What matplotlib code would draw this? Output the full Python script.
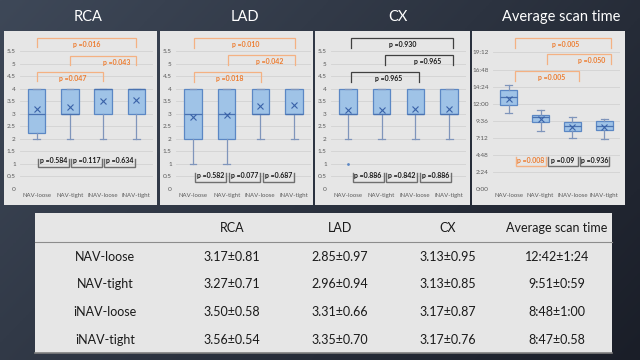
import numpy as np
import matplotlib
matplotlib.use('Agg')
import matplotlib.pyplot as plt
from matplotlib.patches import Rectangle
from matplotlib.lines import Line2D

plt.rcParams['font.family'] = ['Lato', 'DejaVu Sans']

W, H = 640, 360

categories = ['NAV-loose', 'NAV-tight', 'iNAV-loose', 'iNAV-tight']

# box stats
rca_lo = [2, 2, 2, 2]
rca_q1 = [2.25, 3, 3, 3]
rca_med = [3, 3, 4, 4]
rca_q3 = [4, 4, 4, 4]
rca_hi = [4, 4, 4, 4]
rca_mean = [3.17, 3.27, 3.50, 3.56]
rca_fliers = [[], [], [], []]

lad_lo = [1, 1, 2, 2]
lad_q1 = [2, 2, 3, 3]
lad_med = [3, 3, 3, 3]
lad_q3 = [4, 4, 4, 4]
lad_hi = [4, 4, 4, 4]
lad_mean = [2.85, 2.96, 3.31, 3.35]
lad_fliers = [[], [], [], []]

cx_lo = [2, 2, 2, 2]
cx_q1 = [3, 3, 3, 3]
cx_med = [3, 3, 3, 3]
cx_q3 = [4, 4, 4, 4]
cx_hi = [4, 4, 4, 4]
cx_mean = [3.13, 3.13, 3.17, 3.17]
cx_fliers = [[1], [], [], []]

# scan time in minutes
scan_lo = [10.67, 8.14, 7.16, 7.06]
scan_q1 = [11.79, 9.49, 8.14, 8.28]
scan_med = [12.91, 10.19, 8.88, 8.93]
scan_q3 = [13.89, 10.43, 9.49, 9.54]
scan_hi = [14.6, 11.09, 10.1, 9.82]
scan_mean = [12.7, 9.85, 8.8, 8.78]
scan_fliers = [[], [], [], []]

score_ticks = np.arange(0, 5.51, 0.5)
score_tick_labels = ['0', '0.5', '1', '1.5', '2', '2.5', '3', '3.5', '4', '4.5', '5', '5.5']
time_ticks = np.arange(0, 19.3, 2.4)
time_tick_labels = ['0:00', '2:24', '4:48', '7:12', '9:36', '12:00', '14:24', '16:48', '19:12']

# p-values: top pairs (0,3), (1,3), (0,2); bottom pairs (0,1), (1,2), (2,3)
top_pairs = [(0, 3), (1, 3), (0, 2)]
bottom_pairs = [(0, 1), (1, 2), (2, 3)]
rca_top_p = ['0.016', '0.043', '0.047']
rca_bottom_p = ['0.584', '0.117', '0.634']
lad_top_p = ['0.010', '0.042', '0.018']
lad_bottom_p = ['0.582', '0.077', '0.687']
cx_top_p = ['0.930', '0.965', '0.965']
cx_bottom_p = ['0.886', '0.842', '0.886']
scan_top_p = ['0.005', '0.050', '0.005']
scan_bottom_p = ['0.008', '0.09', '0.936']

table_cols = ['RCA', 'LAD', 'CX', 'Average scan time']
table_rows = ['NAV-loose', 'NAV-tight', 'iNAV-loose', 'iNAV-tight']
table_rca = ['3.17±0.81', '3.27±0.71', '3.50±0.58', '3.56±0.54']
table_lad = ['2.85±0.97', '2.96±0.94', '3.31±0.66', '3.35±0.70']
table_cx = ['3.13±0.95', '3.13±0.85', '3.17±0.87', '3.17±0.76']
table_time = ['12:42±1:24', '9:51±0:59', '8:48±1:00', '8:47±0.58']

ORANGE_LINE = '#f4b183'
ORANGE_TEXT = '#ed7d31'
DARK_LINE = '#404040'
DARK_TEXT = '#1a1a1a'
GRAY_LINE = '#6f6f6f'


def fx(px):
    return px / W


def fy(py):
    return 1 - py / H


fig = plt.figure(figsize=(6.4, 3.6), dpi=100)

# dark slate background
bg = fig.add_axes([0, 0, 1, 1], zorder=-10)
gx, gy = np.meshgrid(np.linspace(0, 1, 200), np.linspace(0, 1, 120))
t = np.clip(0.65 * gx + 0.35 * gy, 0, 1)
c0 = np.array([62, 72, 88]) / 255
c1 = np.array([26, 30, 40]) / 255
img = c0[None, None, :] * (1 - t[..., None]) + c1[None, None, :] * t[..., None]
bg.imshow(img, aspect='auto', extent=[0, 1, 0, 1])
bg.set_axis_off()

# panel backgrounds and titles
panels_px = [(4, 157), (160, 313), (315, 470), (472, 625)]
titles = ['RCA', 'LAD', 'CX', 'Average scan time']
title_x = [88, 245, 398, 561]
for (l, r), title, tx in zip(panels_px, titles, title_x):
    fig.add_artist(Rectangle((fx(l), fy(205)), (r - l) / W, (205 - 31) / H,
                             transform=fig.transFigure, facecolor='#e6e6e6',
                             edgecolor='none', zorder=0))
    fig.text(fx(tx), fy(17), title, ha='center', va='center', color='white',
             fontsize=10.5)


def stats(lo, q1, med, q3, hi, mean, fliers):
    return [dict(whislo=lo[i], q1=q1[i], med=med[i], q3=q3[i], whishi=hi[i],
                 mean=mean[i], fliers=fliers[i]) for i in range(len(lo))]


def top_bracket(ax, a, b, h, drop, txt, tx, ty, lc, tc):
    ax.plot([a, a, b, b], [h - drop, h, h, h - drop], color=lc, lw=0.9,
            clip_on=False, solid_joinstyle='miter')
    ax.text(tx, ty, 'p =' + txt, ha='center', va='center', color=tc,
            fontsize=5, fontweight='bold')


def bottom_bracket(ax, a, b, ybot, ytop, ytxt, txt, lc, tc):
    ax.plot([a, a, b, b], [ytop, ybot, ybot, ytop], color=lc, lw=1.0,
            clip_on=False, solid_joinstyle='miter')
    ax.text((a + b) / 2, ytxt, 'p =' + txt, ha='center', va='center',
            color=tc, fontsize=5, fontweight='bold')


def draw_panel(px_left, px_right, px_zero, ytop, st, ticks, tick_labels,
               top_p, top_h, top_drop, top_tx, top_dy, top_col,
               bot_p, bot_y, bot_col, offset):
    ax = fig.add_axes([fx(px_left), fy(px_zero), (px_right - px_left) / W,
                       (px_zero - 31) / H])
    ax.set_facecolor('none')
    ax.set_xlim(-0.5, 3.5)
    ax.set_ylim(0, ytop)
    ax.set_yticks(ticks)
    ax.set_yticklabels(tick_labels)
    ax.yaxis.grid(True, color='#d2d2d2', lw=0.6)
    ax.set_axisbelow(True)
    for s in ax.spines.values():
        s.set_visible(False)
    ax.tick_params(length=0, colors='#595959', pad=3)
    ax.tick_params(axis='y', labelsize=4.6)
    ax.tick_params(axis='x', labelsize=4.3)
    ax.bxp(st, positions=range(4), widths=0.52, capwidths=0.2, showmeans=True,
           patch_artist=True,
           boxprops=dict(facecolor='#9fc3e7', edgecolor='#5b87c4', lw=0.9),
           medianprops=dict(color='#4a72b0', lw=0.9),
           whiskerprops=dict(color='#7f95bb', lw=0.9),
           capprops=dict(color='#7f95bb', lw=0.9),
           meanprops=dict(marker='x', markeredgecolor='#3a62a8',
                          markersize=4, markeredgewidth=0.8),
           flierprops=dict(marker='o', markerfacecolor='#5b87c4',
                           markeredgecolor='none', markersize=2))
    ax.set_xticks(range(4))
    ax.set_xticklabels(categories)
    for (a, b), p, h, tx in zip(top_pairs, top_p, top_h, top_tx):
        lc, tc = top_col
        top_bracket(ax, a + offset, b + offset, h, top_drop, p, tx, h - top_dy, lc, tc)
    ybot, ytop_leg, ytxt = bot_y
    for (a, b), p, col in zip(bottom_pairs, bot_p, bot_col):
        lc, tc = col
        bottom_bracket(ax, a + offset + 0.04, b + offset - 0.04, ybot, ytop_leg,
                       ytxt, p, lc, tc)
    return ax


orange = (ORANGE_LINE, ORANGE_TEXT)
dark = (DARK_LINE, DARK_TEXT)
gray = (GRAY_LINE, DARK_TEXT)

draw_panel(20, 153, 189, 6.295,
           stats(rca_lo, rca_q1, rca_med, rca_q3, rca_hi, rca_mean, rca_fliers),
           score_ticks, score_tick_labels,
           rca_top_p, [6.0, 5.31, 4.65], 0.35, [1.51, 2.42, 1.09], 0.26, orange,
           rca_bottom_p, (0.89, 1.2, 1.12), [gray, gray, gray], 0.0)

draw_panel(176, 311, 188.7, 6.30,
           stats(lad_lo, lad_q1, lad_med, lad_q3, lad_hi, lad_mean, lad_fliers),
           score_ticks, score_tick_labels,
           lad_top_p, [6.01, 5.33, 4.67], 0.4, [1.55, 2.29, 1.10], 0.25, orange,
           lad_bottom_p, (0.28, 0.62, 0.52), [gray, gray, gray], 0.03)

draw_panel(331, 466, 188.7, 6.30,
           stats(cx_lo, cx_q1, cx_med, cx_q3, cx_hi, cx_mean, cx_fliers),
           score_ticks, score_tick_labels,
           cx_top_p, [6.01, 5.33, 4.67], 0.4, [1.63, 2.35, 1.21], 0.25, dark,
           cx_bottom_p, (0.28, 0.62, 0.53), [gray, gray, gray], 0.1)

draw_panel(492.7, 620.3, 189.3, 22.2,
           stats(scan_lo, scan_q1, scan_med, scan_q3, scan_hi, scan_mean, scan_fliers),
           time_ticks, time_tick_labels,
           scan_top_p, [21.28, 18.95, 16.6], 1.4, [1.80, 2.6, 1.35], 0.95, orange,
           scan_bottom_p, (3.31, 4.58, 3.97), [orange, gray, gray], 0.2)

# summary table
fig.add_artist(Rectangle((fx(35), fy(353)), (612 - 35) / W, (353 - 213) / H,
                         transform=fig.transFigure, facecolor='#e6e6e6',
                         edgecolor='none', zorder=0))
fig.add_artist(Line2D([fx(35), fx(612)], [fy(242), fy(242)], color='#8c8c8c',
                      lw=0.8, transform=fig.transFigure))
fig.add_artist(Line2D([fx(35), fx(612)], [fy(353), fy(353)], color='#7f7f7f',
                      lw=1.2, transform=fig.transFigure))

col_x = [232, 340, 448, 557]
row_y = [257, 284, 312, 340]
for x, c in zip(col_x, table_cols):
    fig.text(fx(x), fy(228), c, ha='center', va='center', fontsize=9,
             color=DARK_TEXT)
for y, r, a, b, c, d in zip(row_y, table_rows, table_rca, table_lad, table_cx,
                            table_time):
    fig.text(fx(105), fy(y), r, ha='center', va='center', fontsize=9,
             color=DARK_TEXT)
    for x, v in zip(col_x, [a, b, c, d]):
        fig.text(fx(x), fy(y), v, ha='center', va='center', fontsize=9,
                 color=DARK_TEXT)

fig.savefig('out.png', dpi=100)
